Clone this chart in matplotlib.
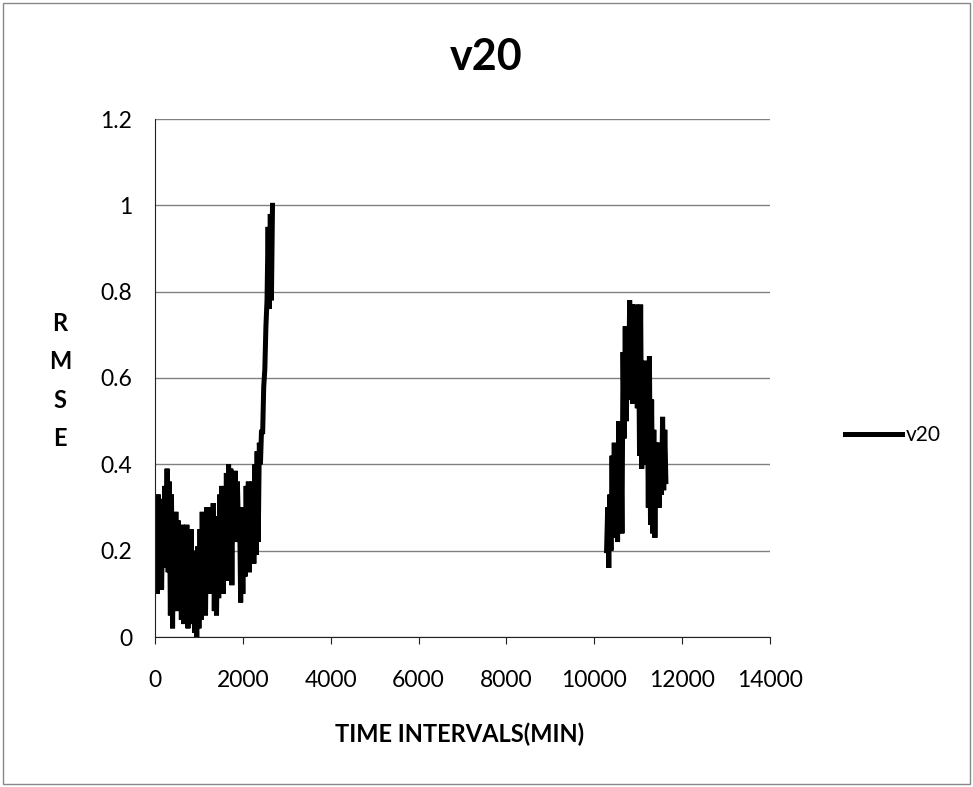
import numpy as np
import matplotlib
matplotlib.use("Agg")
import matplotlib.pyplot as plt
from matplotlib.patches import Rectangle

# ---- data ----
seg1_start, seg1_step = 0, 25
seg1_y = [0.12, 0.30, 0.10, 0.33, 0.14, 0.32, 0.11, 0.28, 0.17, 0.35,
          0.16, 0.39, 0.15, 0.36, 0.05, 0.33, 0.02, 0.28, 0.08, 0.29,
          0.06, 0.27, 0.10, 0.25, 0.04, 0.26, 0.03, 0.24, 0.06, 0.26,
          0.02, 0.22, 0.05, 0.25, 0.03, 0.20, 0.01, 0.18, 0.00, 0.21,
          0.02, 0.25, 0.04, 0.29, 0.08, 0.27, 0.05, 0.30, 0.12, 0.28,
          0.10, 0.30, 0.14, 0.31, 0.06, 0.28, 0.05, 0.26, 0.09, 0.33,
          0.11, 0.35, 0.10, 0.33, 0.14, 0.38, 0.13, 0.40, 0.16, 0.39,
          0.12, 0.37, 0.24, 0.385, 0.22, 0.36, 0.25, 0.30, 0.08, 0.26,
          0.10, 0.30, 0.14, 0.35, 0.16, 0.36, 0.15, 0.34, 0.18, 0.36,
          0.17, 0.40, 0.19, 0.43, 0.22, 0.45, 0.40, 0.48, 0.47, 0.58,
          0.62, 0.72, 0.78, 0.95, 0.76, 0.98, 0.78, 1.00]

seg2_start, seg2_step = 10280, 25
seg2_y = [0.20, 0.30, 0.16, 0.33, 0.20, 0.42, 0.23, 0.45, 0.25, 0.44,
          0.22, 0.50, 0.26, 0.48, 0.24, 0.66, 0.46, 0.72, 0.50, 0.70,
          0.55, 0.78, 0.56, 0.77, 0.54, 0.76, 0.56, 0.77, 0.53, 0.76,
          0.42, 0.77, 0.39, 0.62, 0.40, 0.64, 0.42, 0.60, 0.30, 0.65,
          0.26, 0.55, 0.24, 0.48, 0.23, 0.45, 0.32, 0.45, 0.30, 0.43,
          0.33, 0.51, 0.34, 0.48, 0.36]

x_ticks = [0, 2000, 4000, 6000, 8000, 10000, 12000, 14000]
y_ticks = [0, 0.2, 0.4, 0.6, 0.8, 1.0, 1.2]
y_tick_labels = ["0", "0.2", "0.4", "0.6", "0.8", "1", "1.2"]
y_label_letters = ["R", "M", "S", "E"]

x1 = seg1_start + seg1_step * np.arange(len(seg1_y))
x2 = seg2_start + seg2_step * np.arange(len(seg2_y))

plt.rcParams['font.family'] = ['Lato', 'DejaVu Sans']

W, H = 973, 787
fig = plt.figure(figsize=(W/100, H/100), dpi=100)
ax = fig.add_axes([155/W, 1-637/H, (770-155)/W, (637-119)/H])

xs = np.concatenate([x1, [np.nan], x2])
ys = np.concatenate([seg1_y, [np.nan], seg2_y])
line, = ax.plot(xs, ys, color='black', lw=3.6, solid_joinstyle='miter', label='v20')

ax.set_xlim(0, 14000)
ax.set_ylim(0, 1.2)
ax.set_xticks(x_ticks)
ax.set_xticklabels([str(t) for t in x_ticks], fontsize=16.5)
ax.set_yticks(y_ticks)
ax.set_yticklabels(y_tick_labels, fontsize=16.5)
ax.yaxis.grid(True, color='#808080', lw=1)
ax.set_axisbelow(True)
for s in ['top', 'right']:
    ax.spines[s].set_visible(False)
ax.spines['left'].set_color('#222222')
ax.spines['bottom'].set_color('#222222')
ax.tick_params(axis='x', direction='out', length=5, pad=19, color='#222222')
ax.tick_params(axis='y', length=0, pad=16.5)

fig.text(486/W, 1-57/H, 'v20', ha='center', va='center', fontsize=31, fontweight='bold')
for i, ch in enumerate(y_label_letters):
    fig.text(60/W, 1-(323 + 38.5*i)/H, ch, ha='center', va='center', fontsize=17,
             fontweight='bold')
fig.text(460/W, 1-734/H, 'TIME INTERVALS(MIN)', ha='center', va='center',
         fontsize=17, fontweight='bold')

# legend
fig.legend(handles=[line], labels=['v20'], loc='center left',
           bbox_to_anchor=(845/W, 1-435/H), frameon=False, fontsize=15,
           handlelength=2.75, handletextpad=0.15, borderpad=0, borderaxespad=0)

fig.patches.append(Rectangle((3/W, 3/H), 967/W, 781/H, transform=fig.transFigure,
                             fill=False, edgecolor='#888888', lw=1))

fig.savefig('out.png', dpi=100)
